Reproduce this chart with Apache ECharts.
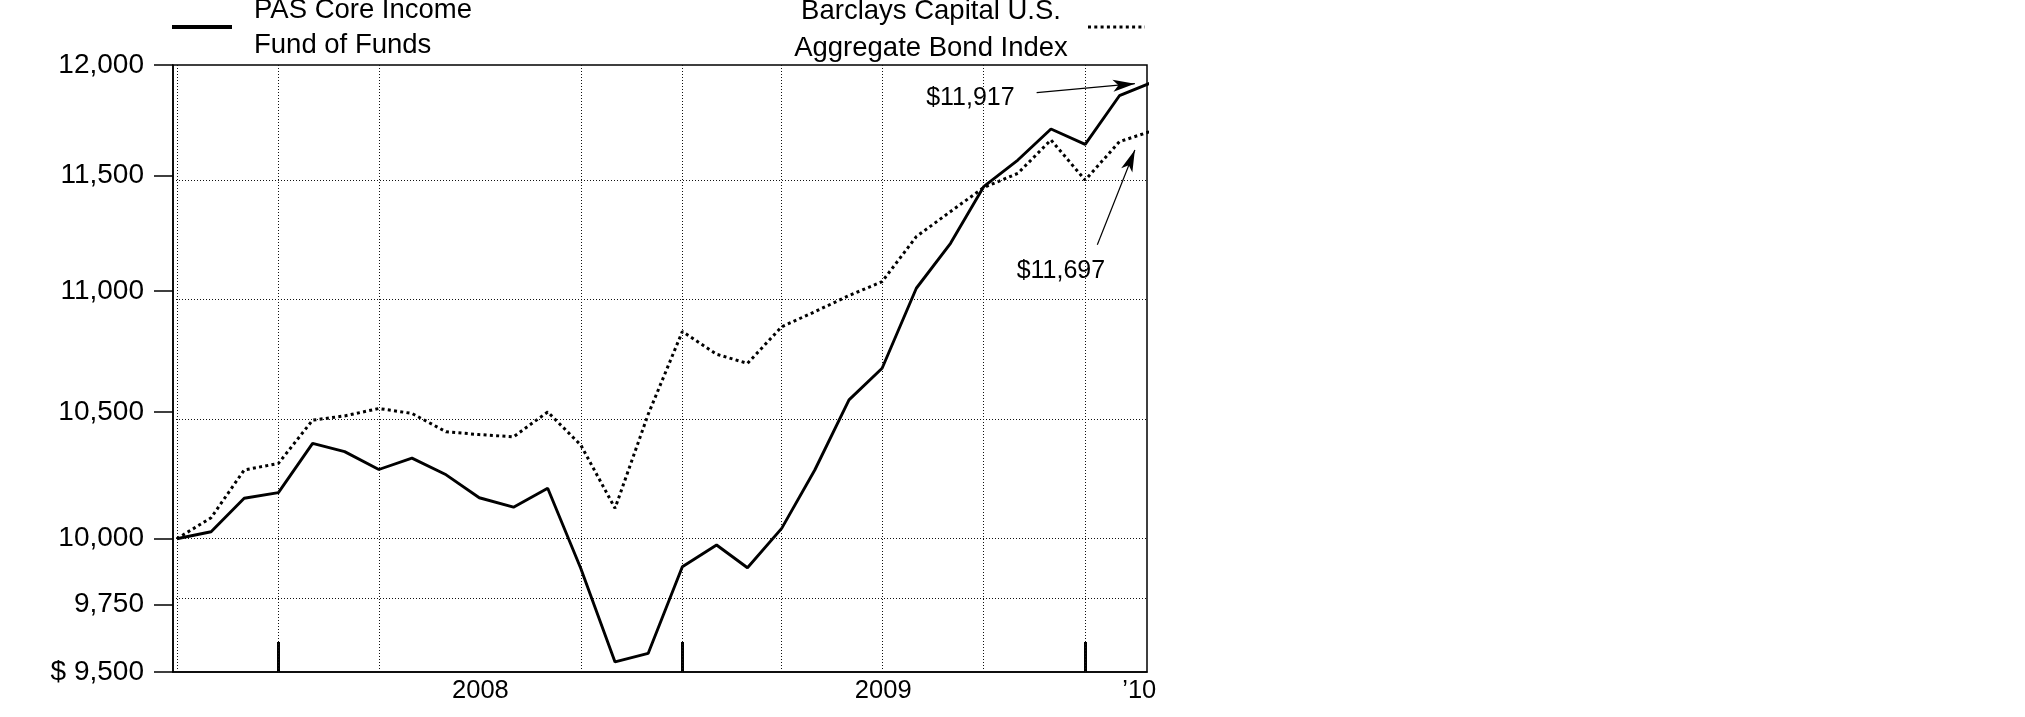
<!DOCTYPE html>
<html><head><meta charset="utf-8">
<script src="https://cdn.jsdelivr.net/npm/echarts@6/dist/echarts.min.js"></script>
<style>html,body{margin:0;padding:0;background:#fff}#c{width:2025px;height:717px}</style>
</head><body><div id="c"></div>
<script>
// ---- data ----
const dates = ['2007-09-30','2007-10-31','2007-11-30','2007-12-31','2008-01-31','2008-02-29','2008-03-31','2008-04-30','2008-05-31','2008-06-30','2008-07-31','2008-08-31','2008-09-30','2008-10-31','2008-11-30','2008-12-31','2009-01-31','2009-02-28','2009-03-31','2009-04-30','2009-05-31','2009-06-30','2009-07-31','2009-08-31','2009-09-30','2009-10-31','2009-11-30','2009-12-31','2010-01-31','2010-02-28'];
const fundValues = [10000,10027,10157,10179,10374,10341,10270,10315,10249,10159,10122,10196,9886,9537,9568,9893,9976,9889,10040,10268,10549,10678,11012,11204,11451,11569,11708,11639,11859,11917];
const indexValues = [10000,10081,10268,10294,10467,10484,10514,10494,10420,10409,10400,10500,10367,10118,10490,10830,10736,10698,10850,10913,10981,11040,11233,11342,11447,11510,11659,11480,11651,11697];
const seriesNames = ['PAS Core Income\nFund of Funds', 'Barclays Capital U.S.\nAggregate Bond Index'];
const yTicks = [9500, 9750, 10000, 10500, 11000, 11500, 12000];
const yGrid = [9750, 10000, 10500, 11000, 11500];
const xGridDates = ['2007-09-30','2007-12-31','2008-03-31','2008-09-30','2008-12-31','2009-03-31','2009-06-30','2009-09-30','2009-12-31'];
const yearTickDates = ['2007-12-31','2008-12-31','2009-12-31'];
const xLabelDates = ['2008-07-01','2009-07-01','2010-02-18'];
const xLabelTexts = ['2008','2009','\u201910'];

// ---- helpers ----
const t = s => { const [y,m,d] = s.split('-').map(Number); return Date.UTC(y, m-1, d); };
const L = v => Math.log10(v);
const DAY = 864e5;
const fmt = v => String(v).replace(/\B(?=(\d{3})+(?!\d))/g, ',');
const FONT = 'Liberation Sans';

const fundData = dates.map((d,i) => [t(d), L(fundValues[i])]);
const indexData = dates.map((d,i) => [t(d), L(indexValues[i])]);
const lastFund = fundValues[fundValues.length-1];
const lastIndex = indexValues[indexValues.length-1];

const chart = echarts.init(document.getElementById('c'), null, {renderer:'canvas'});
chart.setOption({
  animation: false,
  backgroundColor: '#fff',
  textStyle: {fontFamily: FONT, color: '#000'},
  grid: {left: 173, right: 878, top: 65, bottom: 45, show: true, borderColor: '#000', borderWidth: 1.5, backgroundColor: 'transparent'},
  xAxis: {
    type: 'value',
    min: t(dates[0]) - 3.5*DAY,
    max: t('2010-02-25'),
    axisLine: {show: true, onZero: false, lineStyle: {color: '#000', width: 1.5}},
    axisTick: {show: true, customValues: yearTickDates.map(t), inside: true, length: 30, lineStyle: {color: '#000', width: 3}},
    axisLabel: {
      show: true, customValues: xLabelDates.map(t), margin: 6, fontSize: 25.5, color: '#000', fontFamily: FONT,
      formatter: v => { const ts = xLabelDates.map(t); let k = 0, best = Infinity; ts.forEach((x,i)=>{const dd=Math.abs(x-v); if(dd<best){best=dd;k=i;}}); return xLabelTexts[k]; }
    },
    splitLine: {show: false}, minorTick: {show:false}
  },
  yAxis: {
    type: 'value',
    min: L(yTicks[0]), max: L(yTicks[yTicks.length-1]),
    axisLine: {show: true, onZero: false, lineStyle: {color: '#000', width: 1.5}},
    axisTick: {show: true, customValues: yTicks.map(L), length: 19, lineStyle: {color: '#000', width: 1.5}},
    axisLabel: {
      show: true, customValues: yTicks.map(L), margin: 29, fontSize: 28, color: '#000', fontFamily: FONT,
      formatter: v => { const n = Math.round(Math.pow(10, v)); return (n === yTicks[0] ? '$ ' : '') + fmt(n); }
    },
    splitLine: {show: false}
  },
  series: [
    {
      type: 'line', name: 'grid', data: [], silent: true, z: 1,
      markLine: {
        silent: true, symbol: 'none', animation: false, label: {show: false},
        lineStyle: {color: '#111', width: 1, type: [1, 2]},
        emphasis: {disabled: true},
        data: [...xGridDates.map(d => ({xAxis: t(d)})), ...yGrid.map(v => ({yAxis: L(v)}))]
      }
    },
    {
      type: 'line', name: seriesNames[1], data: indexData, symbol: 'none', z: 3,
      lineStyle: {color: '#000', width: 3, type: [3, 3.3], cap: 'butt'},
      markLine: {
        silent: true, symbol: ['none', 'arrow'], symbolSize: [9, 22], label: {show: false},
        lineStyle: {color: '#000', width: 1.2, type: 'solid'},
        data: [[{coord: [t('2010-01-11'), L(11198)]}, {coord: [t('2010-02-14'), L(11614)]}]]
      },
      markPoint: {
        silent: true, symbol: 'rect', symbolSize: 1, itemStyle: {color: 'rgba(0,0,0,0)'},
        label: {show: true, position: 'inside', formatter: '$' + fmt(lastIndex), fontSize: 25, color: '#000', fontFamily: FONT},
        data: [{coord: [t('2009-12-09'), L(11087)]}]
      }
    },
    {
      type: 'line', name: seriesNames[0], data: fundData, symbol: 'none', z: 4,
      lineStyle: {color: '#000', width: 2.9, type: 'solid'},
      markLine: {
        silent: true, symbol: ['none', 'arrow'], symbolSize: [9, 22], label: {show: false},
        lineStyle: {color: '#000', width: 1.2, type: 'solid'},
        data: [[{coord: [t('2009-11-17'), L(11873)]}, {coord: [t('2010-02-14'), L(11914)]}]]
      },
      markPoint: {
        silent: true, symbol: 'rect', symbolSize: 1, itemStyle: {color: 'rgba(0,0,0,0)'},
        label: {show: true, position: 'inside', formatter: '$' + fmt(lastFund), fontSize: 25, color: '#000', fontFamily: FONT},
        data: [{coord: [t('2009-09-18'), L(11848)]}]
      }
    }
  ],
  graphic: [
    {type: 'line', shape: {x1: 172, y1: 27, x2: 232, y2: 27}, style: {stroke: '#000', lineWidth: 4}},
    {type: 'text', style: {text: seriesNames[0].split('\n')[0], x: 254, y: 10, fontSize: 27.5, fontFamily: FONT, fill: '#000', verticalAlign: 'middle', align: 'left'}},
    {type: 'text', style: {text: seriesNames[0].split('\n')[1], x: 254, y: 45.5, fontSize: 27.5, fontFamily: FONT, fill: '#000', verticalAlign: 'middle', align: 'left'}},
    {type: 'line', shape: {x1: 1088, y1: 27, x2: 1145, y2: 27}, style: {stroke: '#000', lineWidth: 3, lineDash: [3, 3.3]}},
    {type: 'text', style: {text: seriesNames[1].split('\n')[0], x: 931, y: 11, fontSize: 27.5, fontFamily: FONT, fill: '#000', verticalAlign: 'middle', align: 'center'}},
    {type: 'text', style: {text: seriesNames[1].split('\n')[1], x: 931, y: 48, fontSize: 27.5, fontFamily: FONT, fill: '#000', verticalAlign: 'middle', align: 'center'}}
  ]
});
</script>
</body></html>
